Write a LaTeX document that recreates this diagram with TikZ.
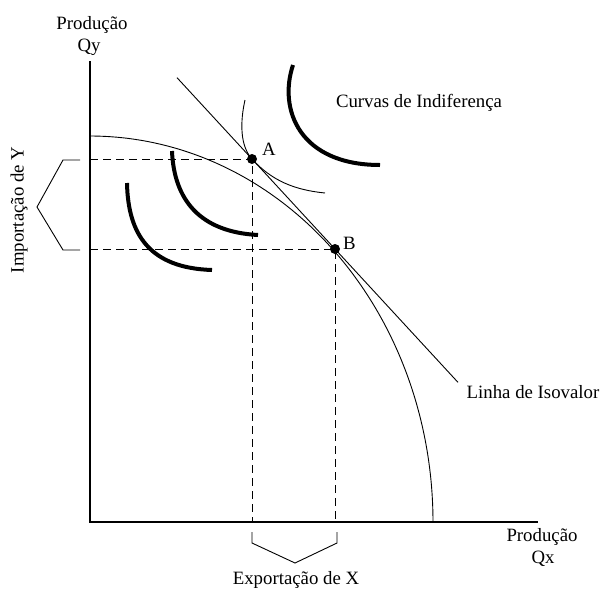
\documentclass[tikz,border=0pt]{standalone}
\usepackage{fontspec}
\setmainfont{Liberation Serif}
\usetikzlibrary{calc}
\begin{document}
\begin{tikzpicture}[x=1pt,y=-1pt,
  lbl/.style={font=\fontsize{18.8}{21}\selectfont, inner sep=0pt, align=center},
  axis/.style={line width=1.5pt},
  thin/.style={line width=0.9pt},
  thick curve/.style={line width=4pt},
  dashline/.style={line width=1pt, dash pattern=on 8pt off 5pt},
  brace/.style={line width=0.9pt},
  dot/.style={circle, fill=black, inner sep=0pt, minimum size=10pt}]
\useasboundingbox (0,0) rectangle (601,589);
% axes
\coordinate (O) at (90,522);
\coordinate (Ytop) at (90,61);
\coordinate (Xend) at (538,522);
\draw[axis] (Ytop) -- (O) -- (Xend);
% production possibility frontier
\draw[thin] plot[domain=0:90, samples=120, smooth] ({90+343*cos(\x)}, {522-386*sin(\x)});
% points
\coordinate (A) at (252,159);
\coordinate (B) at (335,249);
% isovalue line
\coordinate (L1) at ($(A)!{-75/83}!(B)$);
\coordinate (L2) at ($(A)!{206/83}!(B)$);
\draw[thin] (L1) -- (L2);
% thin indifference curve through A
\draw[thin] (245,100) .. controls (240,122) and (240,146) .. (A)
  .. controls (272,181) and (295,190) .. (325,193);
% thick indifference curves
\draw[thick curve] (293,65) .. controls (278,110) and (300,165) .. (380,165);
\draw[thick curve] (172,151) .. controls (174,200) and (200,232) .. (258,235);
\draw[thick curve] (127,183) .. controls (128,235) and (150,268) .. (212,270);
% dashed guides
\coordinate (Ay) at (90,159);
\coordinate (By) at (90,249);
\coordinate (Ax) at (252,522);
\coordinate (Bx) at (335,522);
\draw[dashline] (Ay) -- (A) -- (Ax);
\draw[dashline] (By) -- (B) -- (Bx);
% dots
\node[dot] (dA) at (A) {};
\node[dot] (dB) at (B) {};
\node[lbl, anchor=south west] (lA) at (262,156) {A};
\node[lbl, anchor=south west] (lB) at (343,250) {B};
% left brace
\draw[brace] (80,160) -- (63,160) -- (37,207) -- (63,250) -- (80,250);
% bottom brace
\draw[brace] (252,532) -- (252,543) -- (295,563) -- (337,543) -- (337,532);
% labels
\node[lbl] (py) at (92,25) {Produção};
\node[lbl] (qy) at (89,47) {Qy};
\node[lbl] (px) at (542,537) {Produção};
\node[lbl] (qx) at (543,559) {Qx};
\node[lbl] (ex) at (296,580) {Exportação de X};
\node[lbl, rotate=90] (im) at (19,210) {Importação de Y};
\node[lbl] (ci) at (419,103) {Curvas de Indiferença};
\node[lbl] (li) at (533,392) {Linha de Isovalor};
\end{tikzpicture}
\end{document}
